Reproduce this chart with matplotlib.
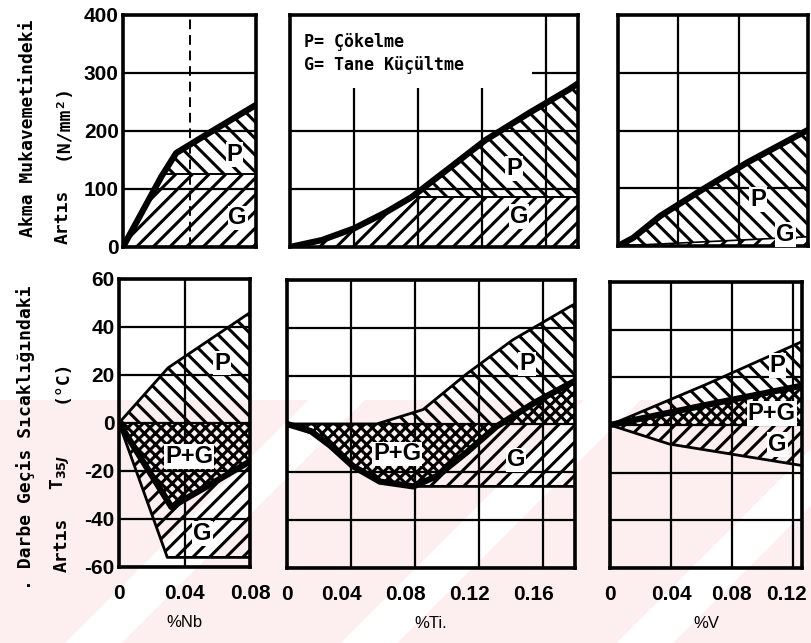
import matplotlib
matplotlib.use("Agg")
import matplotlib.pyplot as plt
import numpy as np
from matplotlib.patches import Rectangle, Polygon
from matplotlib.transforms import ScaledTranslation

plt.rcParams["hatch.linewidth"] = 2.2
plt.rcParams["font.family"] = ["Liberation Sans", "DejaVu Sans"]
plt.rcParams["font.weight"] = "bold"

W, H = 811, 643

# --- top row: yield strength increase (N/mm2) ---
nb_top_x = [0, 0.023, 0.032, 0.052, 0.08]
nb_top_p = [0, 121, 162, 197, 245]
nb_top_g = 125

ti_top_x = [0, 0.02, 0.04, 0.06, 0.076, 0.1, 0.122, 0.15, 0.174, 0.18]
ti_top_p = [0, 12, 32, 60, 86, 137, 184, 232, 271, 282]
ti_top_g = 87

v_top_x = [0, 0.01, 0.028, 0.053, 0.086, 0.126]
v_top_p = [0, 14, 52, 93, 145, 201]
v_top_gx = [0, 0.126]
v_top_g = [0, 16]

# --- bottom row: T35J transition temperature change (C) ---
nb_bot_px = [0, 0.03, 0.08]
nb_bot_p = [0, 23, 46]
nb_bot_nx = [0, 0.032, 0.08]
nb_bot_n = [0, -35, -16]
nb_bot_gx = [0, 0.0295, 0.08]
nb_bot_g = [0, -56, -56]

ti_bot_px = [0, 0.056, 0.085, 0.1125, 0.141, 0.177, 0.18]
ti_bot_p = [0, 0, 6, 21, 35, 49, 50]
ti_bot_nx = [0, 0.015, 0.027, 0.041, 0.058, 0.079, 0.094, 0.1125, 0.131, 0.155, 0.18]
ti_bot_n = [0, -3, -9, -17.5, -24, -26, -21.6, -11.7, -1, 9, 18]
ti_bot_gx = [0, 0.02, 0.04, 0.058, 0.075, 0.18]
ti_bot_g = [0, -5, -17, -24, -26, -26]

v_bot_px = [0, 0.063, 0.126]
v_bot_p = [0, 17, 35]
v_bot_nx = [0, 0.06, 0.126]
v_bot_n = [0, 8, 16.5]
v_bot_gx = [0, 0.039, 0.126]
v_bot_g = [0, -8, -17]

top_yticks = [0, 100, 200, 300, 400]
bot_yticks = [-60, -40, -20, 0, 20, 40, 60]
bot_ylabels = ["-60", "-40", "-20", "0", "20", "40", "60"]
nb_ticks = [0, 0.04, 0.08]
nb_labels = ["0", "0.04", "0.08"]
ti_ticks = [0, 0.04, 0.08, 0.12, 0.16]
ti_labels = ["0", "0.04", "0.08", "0.12", "0.16"]
v_ticks = [0, 0.04, 0.08, 0.12]
v_labels = ["0", "0.04", "0.08", "0.12"]

P_HATCH = "\\\\"
G_HATCH = "//"
PG_HATCH = "xxx"


def box(l, r, t, b):
    return [l / W, 1 - b / H, (r - l) / W, (b - t) / H]


def setup(ax, xmax, ylim, xticks, yticks):
    ax.set_xlim(0, xmax)
    ax.set_ylim(*ylim)
    ax.set_xticks(xticks)
    ax.set_yticks(yticks)
    ax.grid(True, color="black", linewidth=1.6)
    ax.set_axisbelow(True)
    ax.set_facecolor("none")
    ax.tick_params(length=0, labelsize=15, pad=3)
    for s in ax.spines.values():
        s.set_linewidth(2.6)


def shade(ax, x, lo, hi, hatch):
    ax.fill_between(x, lo, hi, facecolor="none", edgecolor="black",
                    hatch=hatch, linewidth=0, zorder=2)


def tag(ax, x, y, s):
    ax.text(x, y, s, ha="center", va="center", fontsize=17, zorder=4,
            bbox=dict(facecolor="white", edgecolor="none", pad=0.6))


fig = plt.figure(figsize=(W / 100, H / 100), dpi=100)

# faint watermark tint on the lower part of the scan
fig.patches.append(Rectangle((0, 0), 1, 1 - 400 / H, transform=fig.transFigure,
                             facecolor="#fdeef0", edgecolor="none", zorder=-10))
for x0 in [0.08, 0.42, 0.76]:
    fig.patches.append(Polygon([(x0, 0), (x0 + 0.07, 0), (x0 + 0.07 + 0.30, 1 - 400 / H),
                                (x0 + 0.30, 1 - 400 / H)], closed=True,
                               transform=fig.transFigure, facecolor="white",
                               edgecolor="none", zorder=-9))

# ---------------- top row ----------------
ax = fig.add_axes(box(123, 256, 15, 247))
setup(ax, 0.08, (0, 400), [0.04], [100, 200, 300])
ax.set_yticks(top_yticks)
ax.xaxis.grid(True, linestyle=(0, (5, 3)), color="black", linewidth=1.4)
ax.tick_params(labelbottom=False)
xs = np.linspace(0, 0.08, 400)
p = np.interp(xs, nb_top_x, nb_top_p)
shade(ax, xs, 0, np.minimum(p, nb_top_g), G_HATCH)
shade(ax, xs, nb_top_g, np.maximum(p, nb_top_g), P_HATCH)
xc = np.interp(nb_top_g, nb_top_p, nb_top_x)
ax.plot([xc, 0.08], [nb_top_g, nb_top_g], color="black", lw=1.4, zorder=3)
ax.plot(nb_top_x, nb_top_p, color="black", lw=4.5, zorder=3, solid_capstyle="round")
tag(ax, 0.067, 159, "P")
tag(ax, 0.069, 50, "G")

ax = fig.add_axes(box(290, 578, 15, 247))
setup(ax, 0.18, (0, 400), ti_ticks[1:], [100, 200, 300])
ax.tick_params(labelbottom=False, labelleft=False)
ax.add_patch(Rectangle((0, 275), 0.151, 125, facecolor="white", edgecolor="none", zorder=1))
xs = np.linspace(0, 0.18, 400)
p = np.interp(xs, ti_top_x, ti_top_p)
shade(ax, xs, 0, np.minimum(p, ti_top_g), G_HATCH)
shade(ax, xs, ti_top_g, np.maximum(p, ti_top_g), P_HATCH)
xc = np.interp(ti_top_g, ti_top_p, ti_top_x)
ax.plot([xc, 0.18], [ti_top_g, ti_top_g], color="black", lw=1.4, zorder=3)
ax.plot(ti_top_x, ti_top_p, color="black", lw=4.5, zorder=3, solid_capstyle="round")
tag(ax, 0.140, 136, "P")
tag(ax, 0.143, 52, "G")
ax.text(0.009, 353, "P= Çökelme", family="DejaVu Sans Mono", fontsize=12,
        ha="left", va="center", zorder=4)
ax.text(0.009, 314, "G= Tane Küçültme", family="DejaVu Sans Mono", fontsize=12,
        ha="left", va="center", zorder=4)

ax = fig.add_axes(box(618, 808, 15, 246))
setup(ax, 0.126, (0, 400), v_ticks[1:3], [100, 200, 300])
ax.tick_params(labelbottom=False, labelleft=False)
xs = np.linspace(0, 0.126, 400)
p = np.interp(xs, v_top_x, v_top_p)
g = np.interp(xs, v_top_gx, v_top_g)
shade(ax, xs, 0, g, G_HATCH)
shade(ax, xs, g, p, P_HATCH)
ax.plot(v_top_gx, v_top_g, color="black", lw=1.2, zorder=3)
ax.plot(v_top_x, v_top_p, color="black", lw=4.5, zorder=3, solid_capstyle="round")
tag(ax, 0.093, 81, "P")
tag(ax, 0.111, 20, "G")

# ---------------- bottom row ----------------
ax = fig.add_axes(box(119, 250, 279, 567))
setup(ax, 0.08, (-60, 60), nb_ticks, bot_yticks)
ax.set_xticklabels(nb_labels)
ax.set_yticklabels(bot_ylabels)
ax.tick_params(axis="x", pad=12)
xs = np.linspace(0, 0.08, 400)
p = np.interp(xs, nb_bot_px, nb_bot_p)
n = np.interp(xs, nb_bot_nx, nb_bot_n)
g = np.interp(xs, nb_bot_gx, nb_bot_g)
shade(ax, xs, 0, p, P_HATCH)
shade(ax, xs, n, 0, PG_HATCH)
shade(ax, xs, g, n, G_HATCH)
ax.plot(nb_bot_px, nb_bot_p, color="black", lw=2, zorder=3)
ax.plot(nb_bot_gx, nb_bot_g, color="black", lw=2, zorder=3)
ax.plot(nb_bot_nx, nb_bot_n, color="black", lw=4.5, zorder=3, solid_capstyle="round")
tag(ax, 0.063, 25, "P")
tag(ax, 0.043, -14, "P+G")
tag(ax, 0.051, -46, "G")
ax.set_xlabel("%Nb", fontsize=12, labelpad=9)

ax = fig.add_axes(box(287, 575, 280, 568))
setup(ax, 0.18, (-60, 60), ti_ticks, bot_yticks)
ax.set_xticklabels(ti_labels)
ax.tick_params(labelleft=False)
ax.tick_params(axis="x", pad=12)
shift = ScaledTranslation(-10 / 100, 0, fig.dpi_scale_trans)
for lab in ax.get_xticklabels()[1:]:
    lab.set_transform(lab.get_transform() + shift)
xs = np.linspace(0, 0.18, 600)
p = np.interp(xs, ti_bot_px, ti_bot_p)
n = np.interp(xs, ti_bot_nx, ti_bot_n)
g = np.interp(xs, ti_bot_gx, ti_bot_g)
top = np.maximum(n, 0)
shade(ax, xs, top, np.maximum(p, top), P_HATCH)
shade(ax, xs, 0, n, PG_HATCH)
shade(ax, xs, g, np.minimum(n, 0), G_HATCH)
ax.plot(ti_bot_gx, ti_bot_g, color="black", lw=2, zorder=3)
ax.plot(ti_bot_px, ti_bot_p, color="black", lw=2, zorder=3)
ax.plot(ti_bot_nx, ti_bot_n, color="black", lw=4.5, zorder=3, solid_capstyle="round")
tag(ax, 0.150, 25, "P")
tag(ax, 0.069, -12.5, "P+G")
tag(ax, 0.143, -15, "G")
ax.set_xlabel("%Ti.", fontsize=12, labelpad=9)

ax = fig.add_axes(box(610, 802, 282, 568))
setup(ax, 0.126, (-60, 60), v_ticks, bot_yticks)
ax.set_xticklabels(v_labels)
ax.tick_params(labelleft=False)
ax.tick_params(axis="x", pad=12)
shift = ScaledTranslation(-6 / 100, 0, fig.dpi_scale_trans)
ax.get_xticklabels()[-1].set_transform(ax.get_xticklabels()[-1].get_transform() + shift)
xs = np.linspace(0, 0.126, 400)
p = np.interp(xs, v_bot_px, v_bot_p)
n = np.interp(xs, v_bot_nx, v_bot_n)
g = np.interp(xs, v_bot_gx, v_bot_g)
shade(ax, xs, n, p, P_HATCH)
shade(ax, xs, 0, n, PG_HATCH)
shade(ax, xs, g, 0, G_HATCH)
ax.plot(v_bot_px, v_bot_p, color="black", lw=2, zorder=3)
ax.plot(v_bot_gx, v_bot_g, color="black", lw=2, zorder=3)
ax.plot(v_bot_nx, v_bot_n, color="black", lw=4.5, zorder=3, solid_capstyle="round")
tag(ax, 0.110, 25, "P")
tag(ax, 0.106, 5, "P+G")
tag(ax, 0.110, -8, "G")
ax.set_xlabel("%V", fontsize=12, labelpad=9)

# ---------------- y axis titles ----------------
mono = dict(family="DejaVu Sans Mono", fontsize=13, rotation=90,
            ha="center", va="center")
fig.text(28 / W, 1 - 128 / H, "Akma Mukavemetindeki", **mono)
fig.text(63 / W, 1 - 217 / H, "Artıs", **mono)
fig.text(63 / W, 1 - 122 / H, "(N/mm²)", **mono)
fig.text(26 / W, 1 - 438 / H, ". Darbe Geçis Sıcaklığındaki", **mono)
fig.text(62 / W, 1 - 545 / H, "Artıs", **mono)
fig.text(60 / W, 1 - 473 / H, r"T$_{35J}$", **mono)
fig.text(62 / W, 1 - 381 / H, "(°C)", **mono)

fig.savefig("out.png", dpi=100)
